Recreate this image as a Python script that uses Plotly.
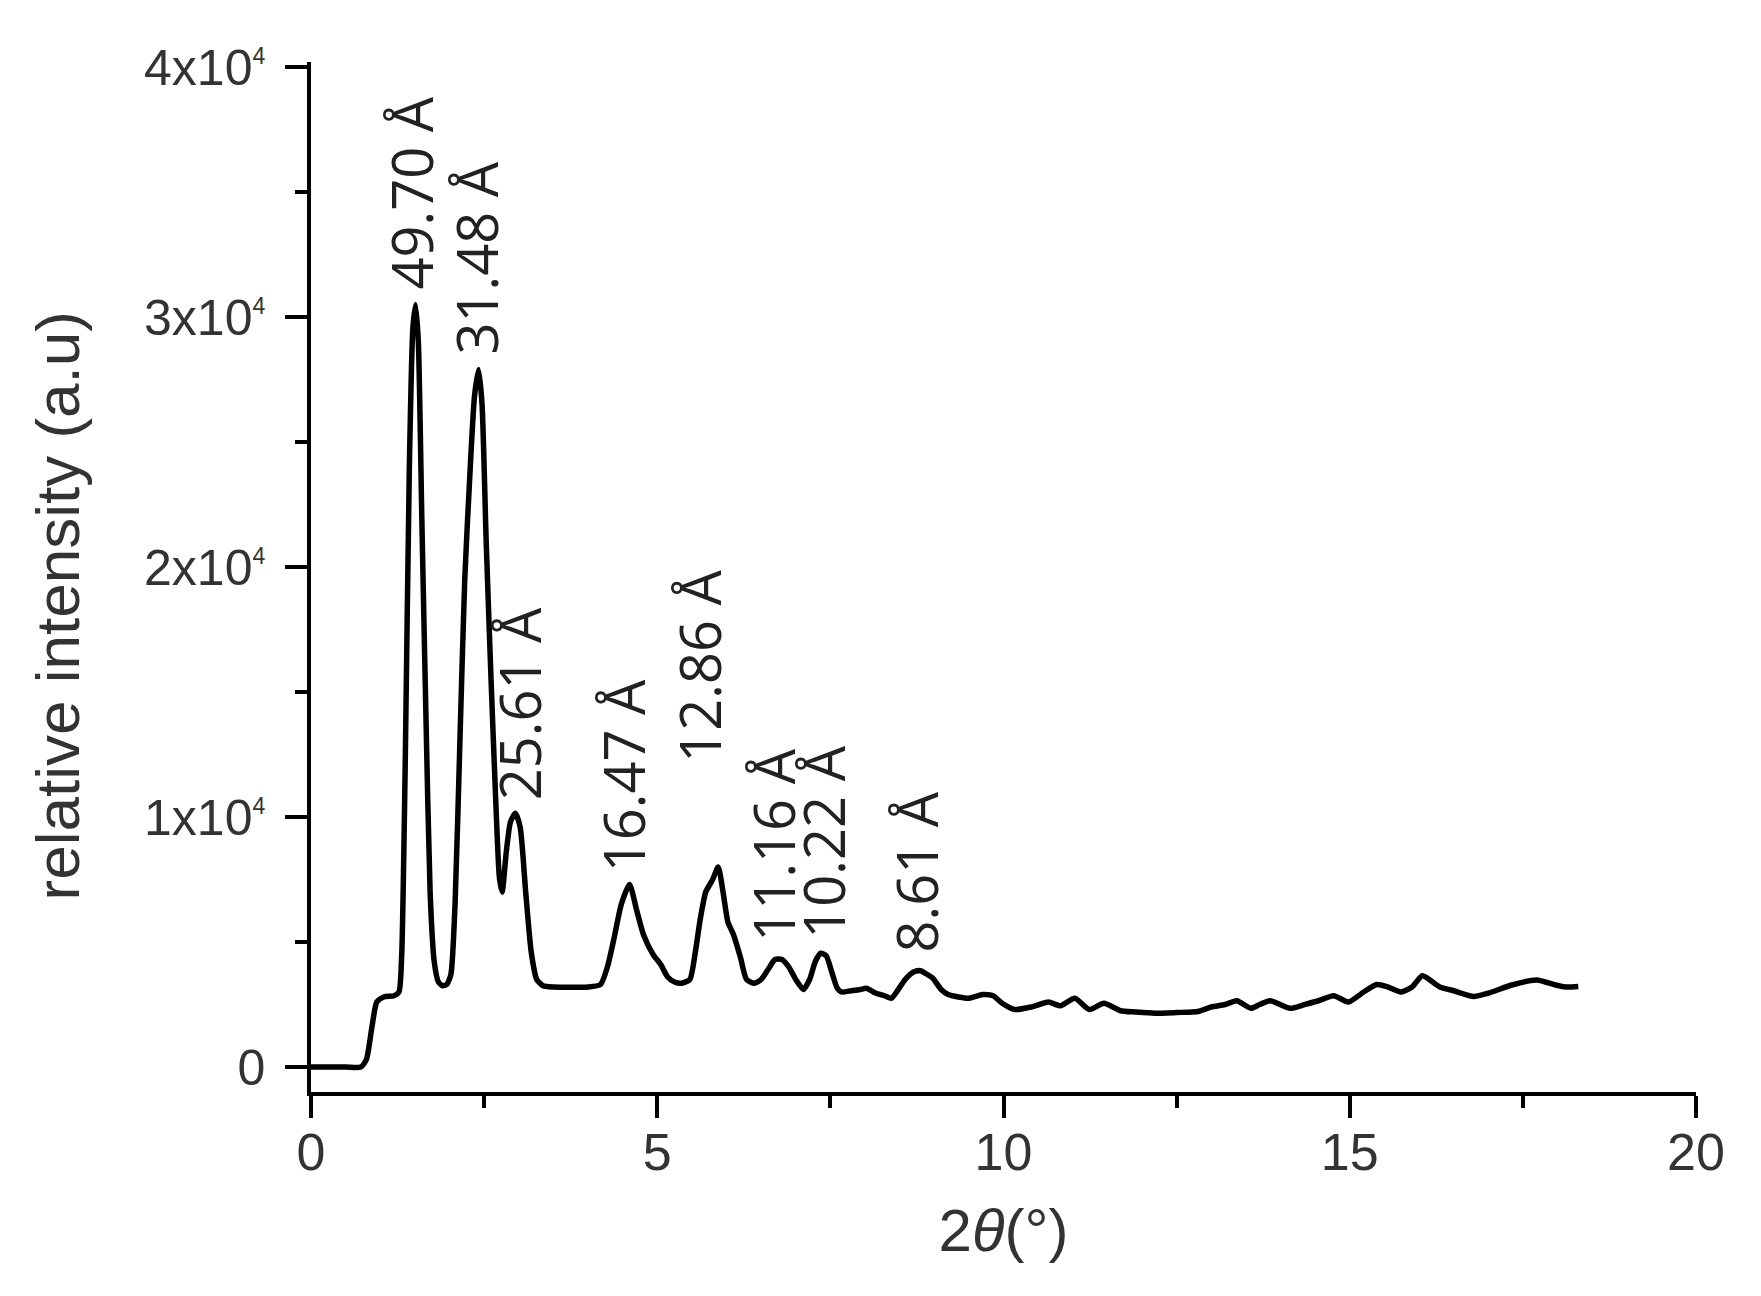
import plotly.graph_objs as go

# XRD pattern
two_theta = [
    0, 0.5, 0.72, 0.8, 0.88, 0.95, 1.05, 1.2, 1.27, 1.31, 1.36, 1.42, 1.47, 1.51,
    1.55, 1.6, 1.66, 1.72, 1.78, 1.84, 1.9, 1.96, 2.02, 2.08, 2.15, 2.22, 2.3,
    2.36, 2.42, 2.47, 2.53, 2.6, 2.67, 2.72, 2.76, 2.82, 2.88, 2.95, 3.02, 3.1,
    3.18, 3.26, 3.35, 3.5, 4.0, 4.18, 4.28, 4.38, 4.48, 4.6, 4.7, 4.8, 4.94,
    5.05, 5.15, 5.25, 5.35, 5.47, 5.55, 5.62, 5.7, 5.8, 5.88, 5.95, 6.02, 6.1,
    6.2, 6.29, 6.4, 6.5, 6.6, 6.7, 6.8, 6.9, 7.0, 7.11, 7.2, 7.28, 7.36, 7.44,
    7.52, 7.6, 7.66, 7.8, 7.93, 8.02, 8.16, 8.28, 8.38, 8.48, 8.58, 8.7, 8.8,
    8.9, 8.98, 9.1, 9.2, 9.35, 9.5, 9.7, 9.85, 9.98, 10.16, 10.4, 10.65, 10.82,
    11.03, 11.24, 11.45, 11.69, 11.9, 12.18, 12.5, 12.81, 13.0, 13.2, 13.37,
    13.57, 13.7, 13.85, 14.14, 14.35, 14.55, 14.77, 14.98, 15.2, 15.39, 15.55,
    15.74, 15.9, 16.05, 16.3, 16.5, 16.79, 17.0, 17.34, 17.7, 17.97, 18.12, 18.3,
]
intensity = [
    0, 0, 0, 300, 1600, 2600, 2800, 2850, 3000, 4500, 12000, 24000, 29500, 30500,
    29000, 22000, 14000, 7000, 4200, 3400, 3250, 3300, 3700, 6500, 13000, 19500, 24000,
    26800, 27900, 26500, 21000, 15500, 10500, 7600, 7000, 8600, 9800, 10150, 9600, 7000,
    4600, 3500, 3250, 3200, 3200, 3300, 4000, 5200, 6500, 7300, 6300, 5300, 4500,
    4100, 3600, 3400, 3350, 3500, 4600, 5900, 7000, 7500, 8000, 7000, 5800, 5300,
    4400, 3500, 3350, 3500, 3900, 4300, 4300, 4000, 3500, 3100, 3500, 4200, 4550, 4450,
    3800, 3150, 3000, 3050, 3100, 3150, 2950, 2850, 2750, 3100, 3500, 3800, 3850,
    3700, 3550, 3100, 2900, 2800, 2750, 2900, 2850, 2550, 2300, 2400, 2600, 2450,
    2750, 2300, 2550, 2250, 2200, 2150, 2180, 2220, 2400, 2500, 2650,
    2350, 2500, 2650, 2350, 2500, 2650, 2850, 2600, 3000, 3300, 3200,
    3000, 3200, 3650, 3200, 3050, 2820, 2950, 3280, 3480, 3280, 3200, 3220,
]

# d-spacing labels above the peaks
peak_labels = ["49.70 Å", "31.48 Å", "25.61 Å", "16.47 Å", "12.86 Å", "11.16 Å", "10.22 Å", "8.61 Å"]
peak_x = [1.43, 2.37, 3.0, 4.51, 5.6, 6.67, 7.4, 8.73]
peak_y = [31000, 28400, 10600, 7700, 12100, 4950, 5050, 4500]

y_tickvals = [0, 10000, 20000, 30000, 40000]
y_ticktext = ["0", "1x10", "2x10", "3x10", "4x10"]
x_tickvals = [0, 5, 10, 15, 20]

SUP = '<sup><span style="font-size:23px">4</span></sup>'

fig = go.Figure()
fig.add_trace(go.Scatter(
    x=two_theta,
    y=intensity,
    mode="lines",
    line=dict(color="black", width=5.5, shape="spline", smoothing=0.6),
    showlegend=False,
))

for label, x, y in zip(peak_labels, peak_x, peak_y):
    fig.add_annotation(
        x=x, y=y, text=label, showarrow=False, textangle=-90,
        xanchor="center", yanchor="bottom",
        font=dict(family="Open Sans", size=56, color="#222222"),
    )

# y axis title as an annotation so it can sit a bit below the centre, as in the reference
fig.add_annotation(
    xref="paper", yref="paper", x=-0.183, y=0.472,
    text="relative intensity (a.u)", showarrow=False, textangle=-90,
    xanchor="center", yanchor="middle",
    font=dict(family="Liberation Sans", size=62, color="#333333"),
)

# the page body adds 8px, so the figure is 16px smaller than the window
fig.update_layout(
    width=1745,
    height=1280,
    plot_bgcolor="white",
    paper_bgcolor="white",
    margin=dict(l=303, r=57, t=54, b=196),
    font=dict(family="Liberation Sans", color="#333333"),
)

fig.update_xaxes(
    range=[0, 20],
    tickvals=x_tickvals,
    ticks="outside", ticklen=22, tickwidth=3.5, tickcolor="black",
    ticklabelstandoff=-10,
    tickfont=dict(size=52),
    minor=dict(dtick=2.5, tick0=0, ticks="outside", ticklen=12, tickwidth=3.5, tickcolor="black"),
    showline=True, linecolor="black", linewidth=3.5,
    showgrid=False, zeroline=False, automargin=False,
    title=dict(text="2<i>θ</i>(°)", font=dict(size=60), standoff=30),
)
fig.update_yaxes(
    range=[-1000, 40200],
    tickvals=y_tickvals,
    ticktext=[t + SUP if t != "0" else t for t in y_ticktext],
    ticks="outside", ticklen=22, tickwidth=3.5, tickcolor="black",
    ticklabelstandoff=10,
    tickfont=dict(size=50),
    minor=dict(dtick=5000, tick0=0, ticks="outside", ticklen=12, tickwidth=3.5, tickcolor="black"),
    showline=True, linecolor="black", linewidth=3.5,
    showgrid=False, zeroline=False, automargin=False,
)

fig.write_html("out.html")
